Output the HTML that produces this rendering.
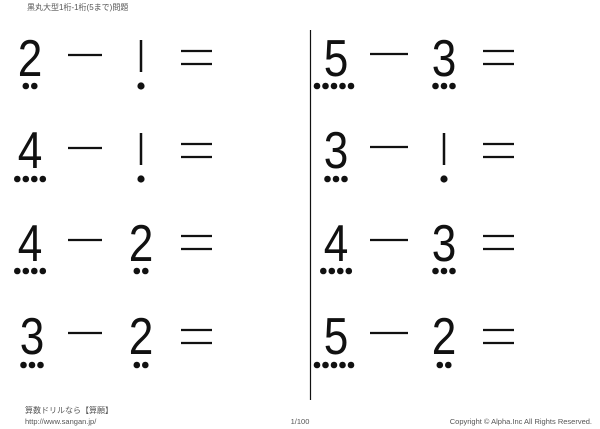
<!DOCTYPE html>
<html><head><meta charset="utf-8"><style>
html,body{margin:0;padding:0;background:#fff;}
svg{display:block}
.t{font-family:"Liberation Sans","Noto Sans CJK JP",sans-serif;fill:#555}
.d{font-family:"Liberation Sans",sans-serif;font-size:52px;fill:#111}
</style></head><body>
<svg width="600" height="429" viewBox="0 0 600 429" xmlns="http://www.w3.org/2000/svg">
<text class="t" x="27" y="10" font-size="8">黒丸大型1桁-1桁(5まで)問題</text>
<line x1="310.5" y1="30" x2="310.5" y2="400" stroke="#111" stroke-width="1.2"/>
<g id="rows"></g>
<text class="t" x="25" y="413" font-size="8">算数ドリルなら【算願】</text>
<text class="t" x="25" y="424" font-size="7.5">http://www.sangan.jp/</text>
<text class="t" x="300" y="424" font-size="7.5" text-anchor="middle">1/100</text>
<text class="t" x="592" y="424" font-size="7.5" text-anchor="end">Copyright © Alpha.Inc All Rights Reserved.</text>

<!-- rows generated statically -->
<g fill="#111" stroke="#111">
<!-- Row 1: 2 - 1 ; 5 - 3 -->
<text class="d" x="30" y="76" text-anchor="middle" stroke="none" transform="translate(30 0) scale(0.85 1) translate(-30 0)">2</text>
<circle cx="25.8" cy="86" r="3.3" stroke="none"/><circle cx="34.3" cy="86" r="3.3" stroke="none"/>
<line x1="68" y1="55" x2="102" y2="55" stroke-width="2.2"/>
<line x1="141" y1="40" x2="141" y2="72" stroke-width="2.5"/>
<circle cx="141" cy="86" r="3.6" stroke="none"/>
<line x1="181" y1="51" x2="212" y2="51" stroke-width="2.2"/><line x1="181" y1="64" x2="212" y2="64" stroke-width="2.2"/>

<text class="d" x="336" y="76" text-anchor="middle" stroke="none" transform="translate(336 0) scale(0.85 1) translate(-336 0)">5</text>
<circle cx="317" cy="86" r="3.3" stroke="none"/><circle cx="325.5" cy="86" r="3.3" stroke="none"/><circle cx="334" cy="86" r="3.3" stroke="none"/><circle cx="342.5" cy="86" r="3.3" stroke="none"/><circle cx="351" cy="86" r="3.3" stroke="none"/>
<line x1="370" y1="54" x2="408" y2="54" stroke-width="2.2"/>
<text class="d" x="444" y="76" text-anchor="middle" stroke="none" transform="translate(444 0) scale(0.85 1) translate(-444 0)">3</text>
<circle cx="435.5" cy="86" r="3.3" stroke="none"/><circle cx="444" cy="86" r="3.3" stroke="none"/><circle cx="452.5" cy="86" r="3.3" stroke="none"/>
<line x1="483" y1="51" x2="514" y2="51" stroke-width="2.2"/><line x1="483" y1="64" x2="514" y2="64" stroke-width="2.2"/>

<!-- Row 2: 4 - 1 ; 3 - 1 -->
<text class="d" x="30" y="168" text-anchor="middle" stroke="none" transform="translate(30 0) scale(0.85 1) translate(-30 0)">4</text>
<circle cx="17.3" cy="179" r="3.3" stroke="none"/><circle cx="25.8" cy="179" r="3.3" stroke="none"/><circle cx="34.3" cy="179" r="3.3" stroke="none"/><circle cx="42.8" cy="179" r="3.3" stroke="none"/>
<line x1="68" y1="148" x2="102" y2="148" stroke-width="2.2"/>
<line x1="141" y1="133" x2="141" y2="165" stroke-width="2.5"/>
<circle cx="141" cy="179" r="3.6" stroke="none"/>
<line x1="181" y1="144" x2="212" y2="144" stroke-width="2.2"/><line x1="181" y1="157" x2="212" y2="157" stroke-width="2.2"/>

<text class="d" x="336" y="168" text-anchor="middle" stroke="none" transform="translate(336 0) scale(0.85 1) translate(-336 0)">3</text>
<circle cx="327.5" cy="179" r="3.3" stroke="none"/><circle cx="336" cy="179" r="3.3" stroke="none"/><circle cx="344.5" cy="179" r="3.3" stroke="none"/>
<line x1="370" y1="147" x2="408" y2="147" stroke-width="2.2"/>
<line x1="444" y1="133" x2="444" y2="165" stroke-width="2.5"/>
<circle cx="444" cy="179" r="3.6" stroke="none"/>
<line x1="483" y1="144" x2="514" y2="144" stroke-width="2.2"/><line x1="483" y1="157" x2="514" y2="157" stroke-width="2.2"/>

<!-- Row 3: 4 - 2 ; 4 - 3 -->
<text class="d" x="30" y="261" text-anchor="middle" stroke="none" transform="translate(30 0) scale(0.85 1) translate(-30 0)">4</text>
<circle cx="17.3" cy="271" r="3.3" stroke="none"/><circle cx="25.8" cy="271" r="3.3" stroke="none"/><circle cx="34.3" cy="271" r="3.3" stroke="none"/><circle cx="42.8" cy="271" r="3.3" stroke="none"/>
<line x1="68" y1="240" x2="102" y2="240" stroke-width="2.2"/>
<text class="d" x="141" y="261" text-anchor="middle" stroke="none" transform="translate(141 0) scale(0.85 1) translate(-141 0)">2</text>
<circle cx="136.8" cy="271" r="3.3" stroke="none"/><circle cx="145.3" cy="271" r="3.3" stroke="none"/>
<line x1="181" y1="236" x2="212" y2="236" stroke-width="2.2"/><line x1="181" y1="249" x2="212" y2="249" stroke-width="2.2"/>

<text class="d" x="336" y="261" text-anchor="middle" stroke="none" transform="translate(336 0) scale(0.85 1) translate(-336 0)">4</text>
<circle cx="323.3" cy="271" r="3.3" stroke="none"/><circle cx="331.8" cy="271" r="3.3" stroke="none"/><circle cx="340.3" cy="271" r="3.3" stroke="none"/><circle cx="348.8" cy="271" r="3.3" stroke="none"/>
<line x1="370" y1="240" x2="408" y2="240" stroke-width="2.2"/>
<text class="d" x="444" y="261" text-anchor="middle" stroke="none" transform="translate(444 0) scale(0.85 1) translate(-444 0)">3</text>
<circle cx="435.5" cy="271" r="3.3" stroke="none"/><circle cx="444" cy="271" r="3.3" stroke="none"/><circle cx="452.5" cy="271" r="3.3" stroke="none"/>
<line x1="483" y1="236" x2="514" y2="236" stroke-width="2.2"/><line x1="483" y1="249" x2="514" y2="249" stroke-width="2.2"/>

<!-- Row 4: 3 - 2 ; 5 - 2 -->
<text class="d" x="32" y="354" text-anchor="middle" stroke="none" transform="translate(32 0) scale(0.85 1) translate(-32 0)">3</text>
<circle cx="23.5" cy="365" r="3.3" stroke="none"/><circle cx="32" cy="365" r="3.3" stroke="none"/><circle cx="40.5" cy="365" r="3.3" stroke="none"/>
<line x1="68" y1="333" x2="102" y2="333" stroke-width="2.2"/>
<text class="d" x="141" y="354" text-anchor="middle" stroke="none" transform="translate(141 0) scale(0.85 1) translate(-141 0)">2</text>
<circle cx="136.8" cy="365" r="3.3" stroke="none"/><circle cx="145.3" cy="365" r="3.3" stroke="none"/>
<line x1="181" y1="330" x2="212" y2="330" stroke-width="2.2"/><line x1="181" y1="343" x2="212" y2="343" stroke-width="2.2"/>

<text class="d" x="336" y="354" text-anchor="middle" stroke="none" transform="translate(336 0) scale(0.85 1) translate(-336 0)">5</text>
<circle cx="317" cy="365" r="3.3" stroke="none"/><circle cx="325.5" cy="365" r="3.3" stroke="none"/><circle cx="334" cy="365" r="3.3" stroke="none"/><circle cx="342.5" cy="365" r="3.3" stroke="none"/><circle cx="351" cy="365" r="3.3" stroke="none"/>
<line x1="370" y1="333" x2="408" y2="333" stroke-width="2.2"/>
<text class="d" x="444" y="354" text-anchor="middle" stroke="none" transform="translate(444 0) scale(0.85 1) translate(-444 0)">2</text>
<circle cx="439.8" cy="365" r="3.3" stroke="none"/><circle cx="448.3" cy="365" r="3.3" stroke="none"/>
<line x1="483" y1="330" x2="514" y2="330" stroke-width="2.2"/><line x1="483" y1="343" x2="514" y2="343" stroke-width="2.2"/>
</g>
</svg>
</body></html>
